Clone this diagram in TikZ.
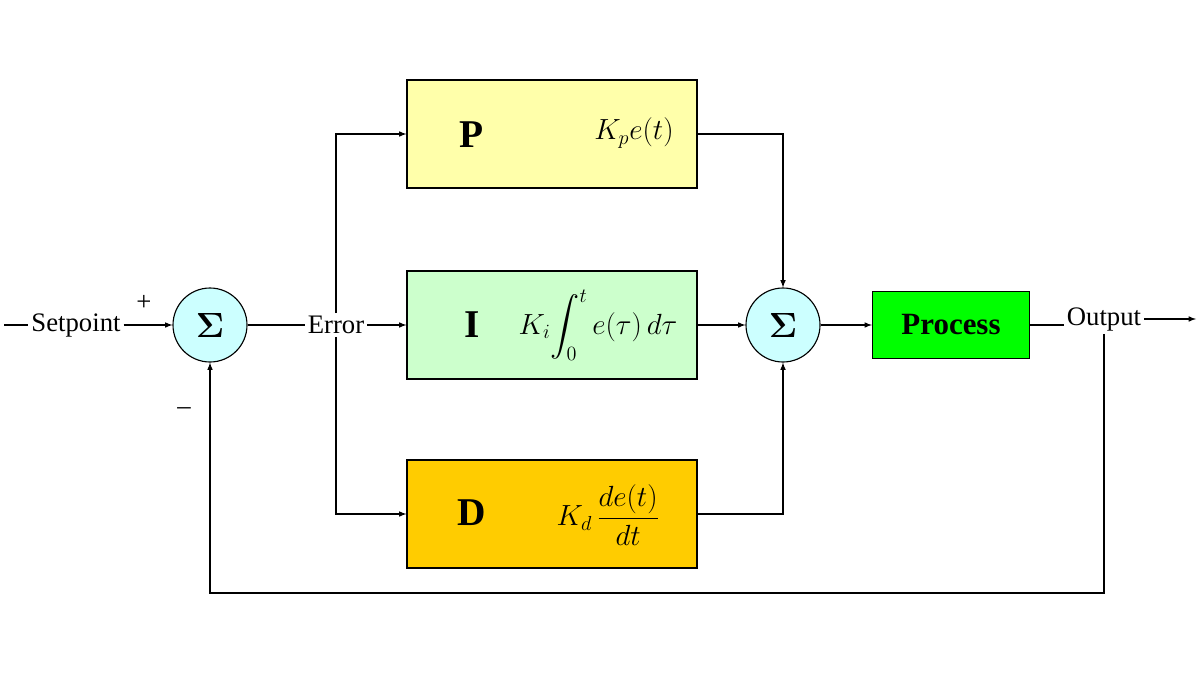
\documentclass[tikz,border=0pt]{standalone}
\usepackage{fontspec}
\usepackage{amsmath}
\setmainfont{Liberation Serif}
\usetikzlibrary{positioning,calc}

\definecolor{pfill}{RGB}{255,255,170}
\definecolor{ifill}{RGB}{204,255,204}
\definecolor{dfill}{RGB}{255,204,0}
\definecolor{procfill}{RGB}{0,255,0}
\definecolor{sumfill}{RGB}{204,255,255}

\tikzset{
  blk/.style={draw, thick, minimum width=7.25cm, minimum height=2.7cm},
  sum/.style={draw, thick, circle, fill=sumfill, minimum size=1.85cm, inner sep=0pt,
    font=\fontsize{26}{28}\selectfont\bfseries},
  lbl/.style={font=\fontsize{19}{21}\selectfont, fill=white, inner sep=2pt},
  big/.style={font=\fontsize{28}{30}\selectfont\bfseries},
  frm/.style={font=\fontsize{20}{24}\selectfont},
  sig/.style={thick, -latex}
}

\begin{document}
\begin{tikzpicture}
        \useasboundingbox (0,0) rectangle (30,16.875);

        % Sums.
        \node[sum] (s1) at (5.25,8.75) {$\boldsymbol{\Sigma}$};
        \node[sum] (s2) at (19.575,8.75) {$\boldsymbol{\Sigma}$};

        % Blocks.
        \node[blk, fill=pfill] (p) at (13.8,13.525) {};
        \node[blk, fill=ifill] (i) at (13.8,8.75) {};
        \node[blk, fill=dfill] (d) at (13.8,4.025) {};
        \node[draw, thick, fill=procfill, minimum width=3.925cm, minimum height=1.675cm,
          font=\fontsize{22}{24}\selectfont\bfseries] (proc) at (23.775,8.75) {Process};

        \node[big] (pl) at (11.8,13.5) {P};
        \node[big] (il) at (11.8,8.75) {I};
        \node[big] (dl) at (11.8,4.05) {D};
        \node[frm] (pf) at (15.85,13.55) {$K_p e(t)$};
        \node[frm] (if) at (14.95,8.75) {$K_i\!\displaystyle\int_0^t e(\tau)\,d\tau$};
        \node[frm] (df) at (15.2,4.0) {$K_d\,\dfrac{de(t)}{dt}$};

        % Labels.
        \coordinate (in) at (0.1,8.75);
        \node[lbl] (sp) at (1.9,8.75) {Setpoint};
        \node[lbl] (err) at (8.4,8.75) {Error};
        \node[lbl] (out) at (27.6,8.9) {Output};
        \coordinate (end) at (29.9,8.9);
        \node[font=\fontsize{19}{21}\selectfont] (plus) at (3.6,9.3) {+};
        \node[font=\fontsize{19}{21}\selectfont] (minus) at (4.6,6.6) {--};

        % Signals.
        \draw[thick] (in) -- (sp);
        \draw[sig] (sp) -- (s1);
        \draw[thick] (s1) -- (err);
        \draw[sig] (err) -- (i);
        \draw[sig] (err.north) |- (p);
        \draw[sig] (err.south) |- (d);
        \draw[sig] (p) -| (s2);
        \draw[sig] (i) -- (s2);
        \draw[sig] (d) -| (s2);
        \draw[sig] (s2) -- (proc);
        \draw[thick] (proc) -- (out.west |- proc);
        \draw[sig] (out) -- (end);
        \coordinate (fb) at (27.6,2.05);
        \draw[sig] (out.south) -- (fb) -| (s1);
\end{tikzpicture}
\end{document}
